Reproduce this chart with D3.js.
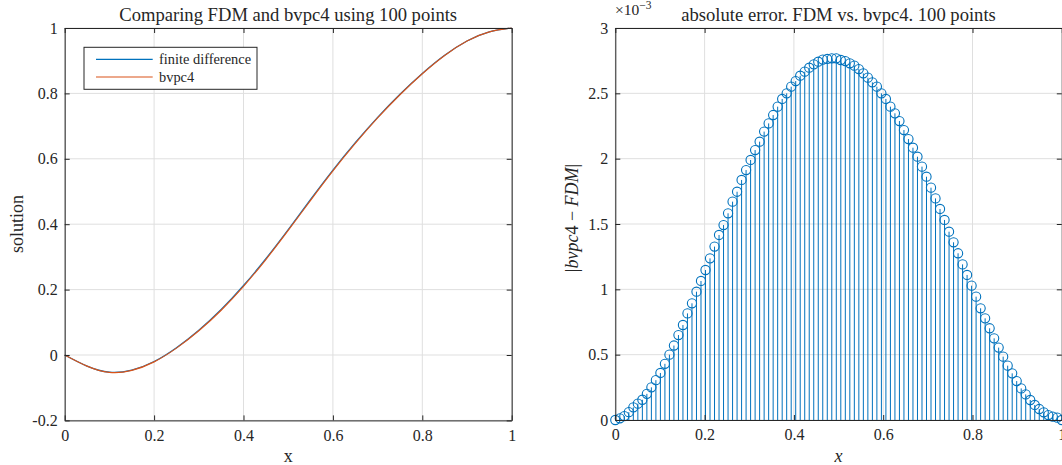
<!DOCTYPE html>
<html><head><meta charset="utf-8">
<script src="https://cdn.jsdelivr.net/npm/d3@7"></script>
<style>
body{margin:0;background:#fff;overflow:hidden;}
text{font-family:"Liberation Serif","Times New Roman",serif;fill:#262626;}
</style></head><body>
<svg id="fig" width="1062" height="465"></svg>
<script>
// Solution of the boundary value problem, sampled for the line plot
const xSamples = [0,0.05,0.1,0.15,0.2,0.25,0.3,0.35,0.4,0.45,0.5,0.55,0.6,0.65,0.7,0.75,0.8,0.85,0.9,0.95,1];
const bvp4Solution = [0,-0.034,-0.053,-0.047,-0.021,0.021,0.074,0.137,0.210,0.292,0.381,0.473,0.563,0.647,0.725,0.796,0.860,0.916,0.960,0.988,1.0];
const fdmSolution = [0,-0.0339,-0.0526,-0.0462,-0.0199,0.0225,0.0758,0.1390,0.2125,0.2946,0.3837,0.4757,0.5655,0.6492,0.7268,0.7975,0.8610,0.9165,0.9603,0.9881,1.0];

// |bvpc4 - FDM| at the 100 grid nodes, in units of 1e-3
const absError = [
 0,0.013,0.03,0.06,0.097,0.125,0.155,0.2,0.25,0.305,
 0.36,0.43,0.5,0.57,0.65,0.727,0.816,0.893,0.982,1.064,
 1.148,1.237,1.327,1.416,1.492,1.582,1.671,1.747,1.837,1.913,
 1.99,2.066,2.13,2.207,2.27,2.334,2.398,2.457,2.5,2.551,
 2.594,2.635,2.666,2.696,2.722,2.742,2.758,2.763,2.768,2.768,
 2.755,2.747,2.73,2.712,2.686,2.653,2.62,2.584,2.551,2.5,
 2.457,2.398,2.347,2.288,2.219,2.15,2.084,2.015,1.939,1.862,
 1.778,1.696,1.615,1.531,1.441,1.36,1.276,1.191,1.11,1.028,
 0.944,0.855,0.778,0.702,0.625,0.554,0.485,0.416,0.357,0.298,
 0.242,0.196,0.153,0.115,0.084,0.059,0.038,0.026,0.018,0
];

const xTicks = [0,0.2,0.4,0.6,0.8,1];
const xTickLabels = ["0","0.2","0.4","0.6","0.8","1"];
const solTicks = [-0.2,0,0.2,0.4,0.6,0.8,1];
const solTickLabels = ["-0.2","0","0.2","0.4","0.6","0.8","1"];
const errTicks = [0,0.5,1,1.5,2,2.5,3];
const errTickLabels = ["0","0.5","1","1.5","2","2.5","3"];
const seriesNames = ["finite difference","bvpc4"];
const titles = ["Comparing FDM and bvpc4 using 100 points","absolute error. FDM vs. bvpc4. 100 points"];

const C_BLUE = "#0072BD", C_ORANGE = "#D95319", C_AX = "#262626", C_GRID = "#dfdfdf";
const TICK_FS = 16, LABEL_FS = 18, TITLE_FS = 18.6, LEGEND_FS = 14.4;

const svg = d3.select("#fig");

function drawGrid(g, x, y, xt, yt) {
  const [x0, x1] = x.range(), [y0, y1] = y.range();
  g.append("g").selectAll("line").data(xt).join("line")
    .attr("x1", d => x(d)).attr("x2", d => x(d)).attr("y1", y0).attr("y2", y1)
    .attr("stroke", C_GRID).attr("stroke-width", 1);
  g.append("g").selectAll("line").data(yt).join("line")
    .attr("y1", d => y(d)).attr("y2", d => y(d)).attr("x1", x0).attr("x2", x1)
    .attr("stroke", C_GRID).attr("stroke-width", 1);
}

function drawAxes(g, x, y, xt, xtl, yt, ytl) {
  const [x0, x1] = x.range(), [y0, y1] = y.range();
  const style = a => {
    a.selectAll("path.domain").attr("stroke", C_AX).attr("stroke-width", 1);
    a.selectAll(".tick line").attr("stroke", C_AX).attr("stroke-width", 1);
    a.selectAll("text").attr("font-size", TICK_FS).attr("fill", C_AX)
      .attr("font-family", '"Liberation Serif","Times New Roman",serif');
  };
  g.append("g").attr("transform", `translate(0,${y0})`)
    .call(d3.axisBottom(x).tickValues(xt).tickFormat((d, i) => xtl[i]).tickSizeInner(-5).tickSizeOuter(0).tickPadding(9))
    .call(style);
  g.append("g").attr("transform", `translate(0,${y1})`)
    .call(d3.axisTop(x).tickValues(xt).tickFormat("").tickSizeInner(-5).tickSizeOuter(0))
    .call(style);
  g.append("g").attr("transform", `translate(${x0},0)`)
    .call(d3.axisLeft(y).tickValues(yt).tickFormat((d, i) => ytl[i]).tickSizeInner(-5).tickSizeOuter(0).tickPadding(7))
    .call(style);
  g.append("g").attr("transform", `translate(${x1},0)`)
    .call(d3.axisRight(y).tickValues(yt).tickFormat("").tickSizeInner(-5).tickSizeOuter(0))
    .call(style);
}

// ---------- left panel: solutions ----------
const xL = d3.scaleLinear().domain([0, 1]).range([64.7, 511.7]);
const yL = d3.scaleLinear().domain([-0.2, 1]).range([420.4, 28]);
const gL = svg.append("g");
drawGrid(gL, xL, yL, xTicks, solTicks);

const lineL = (vals) => d3.line().x((d, i) => xL(xSamples[i])).y(d => yL(d)).curve(d3.curveNatural)(vals);
gL.append("path").attr("d", lineL(fdmSolution)).attr("fill", "none").attr("stroke", C_BLUE).attr("stroke-width", 1.2);
gL.append("path").attr("d", lineL(bvp4Solution)).attr("fill", "none").attr("stroke", C_ORANGE).attr("stroke-width", 1.2);

drawAxes(gL, xL, yL, xTicks, xTickLabels, solTicks, solTickLabels);

// legend
const leg = gL.append("g");
leg.append("rect").attr("x", 84).attr("y", 47.3).attr("width", 173).attr("height", 42)
  .attr("fill", "#fff").attr("stroke", C_AX).attr("stroke-width", 1);
[C_BLUE, C_ORANGE].forEach((c, i) => {
  const yy = 59.3 + i * 17.7;
  leg.append("line").attr("x1", 96).attr("x2", 152.7).attr("y1", yy).attr("y2", yy)
    .attr("stroke", c).attr("stroke-width", 1.2);
  leg.append("text").attr("x", 159).attr("y", yy + 4.5).attr("font-size", LEGEND_FS).text(seriesNames[i]);
});

gL.append("text").attr("x", (xL.range()[0] + xL.range()[1]) / 2).attr("y", 20.5)
  .attr("text-anchor", "middle").attr("font-size", TITLE_FS).text(titles[0]);
gL.append("text").attr("x", (xL.range()[0] + xL.range()[1]) / 2).attr("y", 461.5)
  .attr("text-anchor", "middle").attr("font-size", LABEL_FS).text("x");
gL.append("text").attr("transform", "translate(22.5,224) rotate(-90)")
  .attr("text-anchor", "middle").attr("font-size", LABEL_FS).text("solution");

// ---------- right panel: absolute error stems ----------
const xR = d3.scaleLinear().domain([0, 1]).range([615.3, 1061.8]);
const yR = d3.scaleLinear().domain([0, 3]).range([420, 28]);
const gR = svg.append("g");
drawGrid(gR, xR, yR, xTicks, errTicks);

const nodeX = d3.range(absError.length).map(i => i / (absError.length - 1));
gR.append("g").selectAll("line").data(absError).join("line")
  .attr("x1", (d, i) => xR(nodeX[i])).attr("x2", (d, i) => xR(nodeX[i]))
  .attr("y1", yR(0)).attr("y2", d => yR(d))
  .attr("stroke", C_BLUE).attr("stroke-width", 1);
gR.append("g").selectAll("circle").data(absError).join("circle")
  .attr("cx", (d, i) => xR(nodeX[i])).attr("cy", d => yR(d)).attr("r", 4.6)
  .attr("fill", "none").attr("stroke", C_BLUE).attr("stroke-width", 1.1);

drawAxes(gR, xR, yR, xTicks, xTickLabels, errTicks, errTickLabels);

// exponent marker
const ex = gR.append("text").attr("x", 615).attr("y", 14.5).attr("font-size", 15.5);
ex.append("tspan").text("×10");
ex.append("tspan").attr("dy", -6).attr("font-size", 11.5).text("−3");

gR.append("text").attr("x", (xR.range()[0] + xR.range()[1]) / 2).attr("y", 20.5)
  .attr("text-anchor", "middle").attr("font-size", TITLE_FS).text(titles[1]);
gR.append("text").attr("x", (xR.range()[0] + xR.range()[1]) / 2).attr("y", 461.5)
  .attr("text-anchor", "middle").attr("font-size", LABEL_FS).attr("font-style", "italic").text("x");

const yl = gR.append("text").attr("transform", "translate(578,218) rotate(-90)")
  .attr("text-anchor", "middle").attr("font-size", LABEL_FS);
yl.append("tspan").text("|");
yl.append("tspan").attr("font-style", "italic").text("bvpc");
yl.append("tspan").text("4 − ");
yl.append("tspan").attr("font-style", "italic").text("FDM");
yl.append("tspan").text("|");
</script>
</body></html>
